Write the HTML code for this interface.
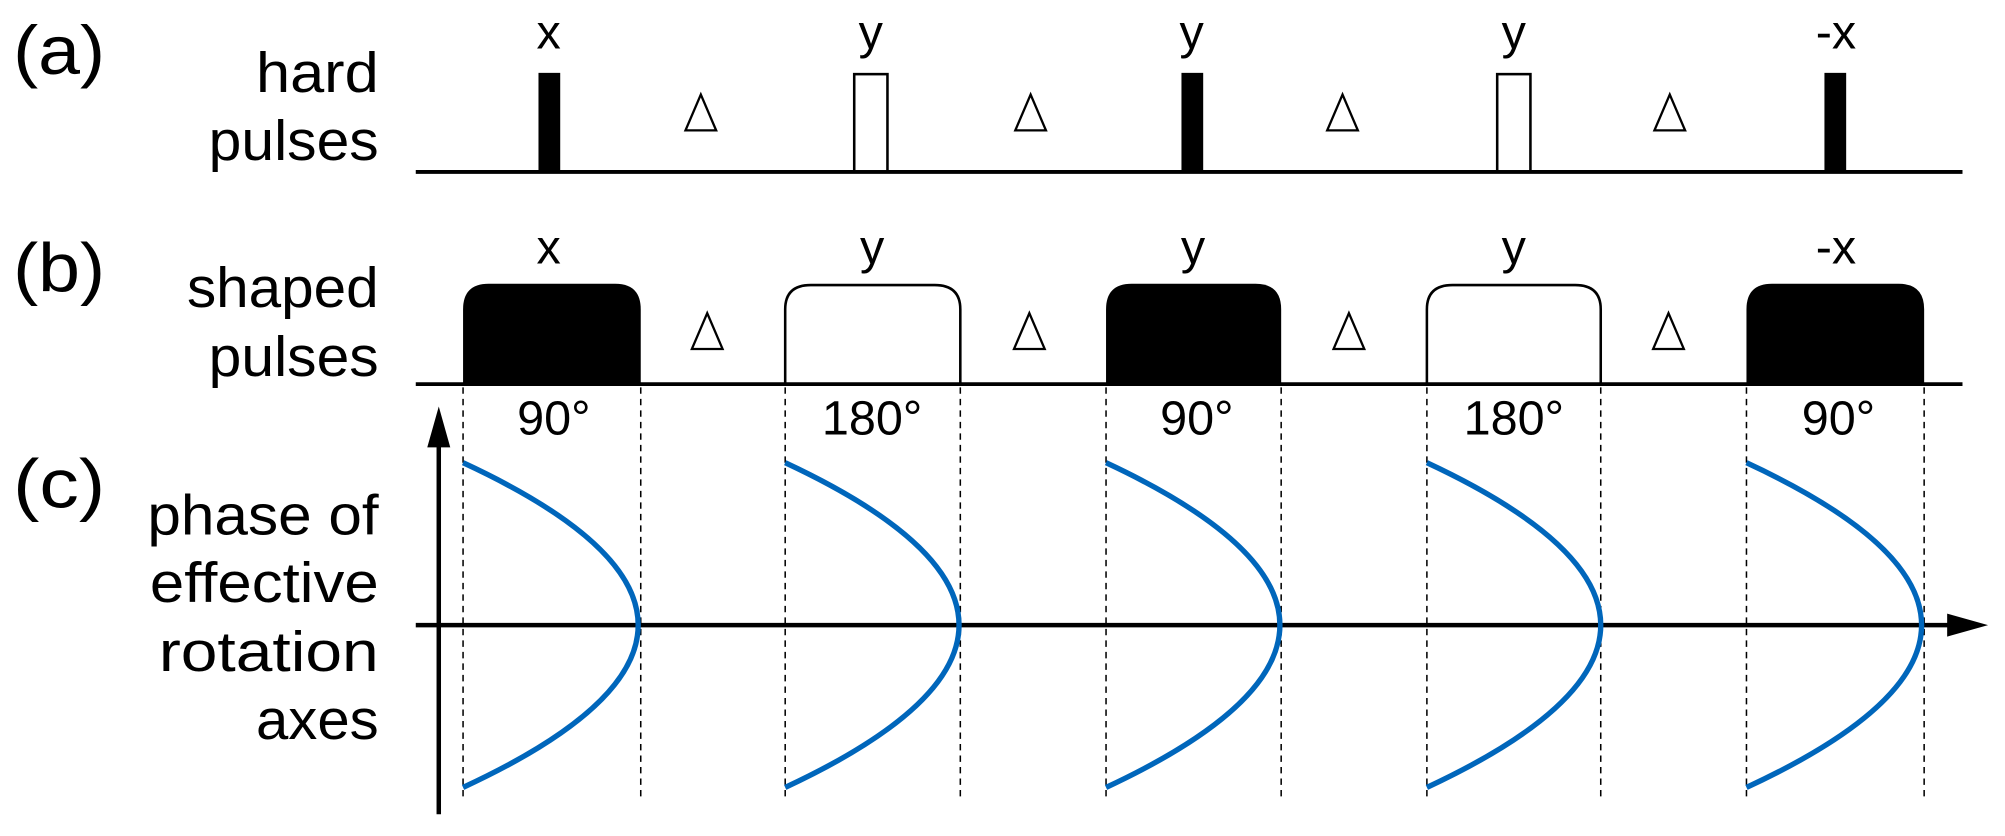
<!DOCTYPE html>
<html><head><meta charset="utf-8"><style>html,body{margin:0;padding:0;background:#fff}svg{display:block}</style></head>
<body>
<svg width="2005" height="836" viewBox="0 0 1568 654" xmlns="http://www.w3.org/2000/svg" font-family="'Liberation Sans',sans-serif">
<rect width="1568" height="654" fill="#fff"/>
<g font-size="54" fill="#000">
<text x="10" y="58" textLength="72" lengthAdjust="spacingAndGlyphs">(a)</text>
<text x="10" y="228" textLength="72" lengthAdjust="spacingAndGlyphs">(b)</text>
<text x="10" y="397" textLength="72" lengthAdjust="spacingAndGlyphs">(c)</text>
</g>
<g font-size="44" fill="#000" text-anchor="end">
<text x="296" y="72" textLength="96" lengthAdjust="spacingAndGlyphs">hard</text>
<text x="296" y="125" textLength="133" lengthAdjust="spacingAndGlyphs">pulses</text>
<text x="296" y="240" textLength="150" lengthAdjust="spacingAndGlyphs">shaped</text>
<text x="296" y="294" textLength="133" lengthAdjust="spacingAndGlyphs">pulses</text>
<text x="296" y="418" textLength="181" lengthAdjust="spacingAndGlyphs">phase of</text>
<text x="296" y="471" textLength="179" lengthAdjust="spacingAndGlyphs">effective</text>
<text x="296" y="525" textLength="172" lengthAdjust="spacingAndGlyphs">rotation</text>
<text x="296" y="578" textLength="96" lengthAdjust="spacingAndGlyphs">axes</text>
</g>
<!-- row a -->
<line x1="325" y1="134.5" x2="1535" y2="134.5" stroke="#000" stroke-width="3"/>
<rect x="421" y="57" width="17" height="77" fill="#000"/>
<rect x="668" y="58" width="26" height="76" fill="#fff" stroke="#000" stroke-width="2"/>
<rect x="924" y="57" width="17" height="77" fill="#000"/>
<rect x="1171" y="58" width="26" height="76" fill="#fff" stroke="#000" stroke-width="2"/>
<rect x="1427" y="57" width="17" height="77" fill="#000"/>
<g font-size="38" text-anchor="middle" fill="#000">
<text x="429" y="38">x</text><text x="681" y="38">y</text><text x="932" y="38">y</text><text x="1184" y="38">y</text><text x="1436" y="38">-x</text>
<text x="429" y="206">x</text><text x="682" y="206">y</text><text x="933" y="206">y</text><text x="1184" y="206">y</text><text x="1436" y="206">-x</text>
</g>
<g fill="none" stroke="#000" stroke-width="1.8">
<polygon points="548,74 536,102 560,102"/><polygon points="806,74 794,102 818,102"/><polygon points="1050,74 1038,102 1062,102"/><polygon points="1306,74 1294,102 1318,102"/>
<polygon points="553,245 541,273 565,273"/><polygon points="805,245 793,273 817,273"/><polygon points="1055,245 1043,273 1067,273"/><polygon points="1305,245 1293,273 1317,273"/>
</g>
<!-- row b -->
<path d="M362,300 V242 Q362,222 382,222 H481 Q501,222 501,242 V300 Z" fill="#000"/>
<path d="M614,300 V242 Q614,223 634,223 H731 Q751,223 751,242 V300" fill="#fff" stroke="#000" stroke-width="2"/>
<path d="M865,300 V242 Q865,222 885,222 H982 Q1002,222 1002,242 V300 Z" fill="#000"/>
<path d="M1116,300 V242 Q1116,223 1136,223 H1232 Q1252,223 1252,242 V300" fill="#fff" stroke="#000" stroke-width="2"/>
<path d="M1366,300 V242 Q1366,222 1386,222 H1485 Q1505,222 1505,242 V300 Z" fill="#000"/>
<line x1="325" y1="300.5" x2="1535" y2="300.5" stroke="#000" stroke-width="3"/>
<g stroke="#000" stroke-width="1.2" stroke-dasharray="5,4">
<line x1="362" y1="303" x2="362" y2="623"/><line x1="501" y1="303" x2="501" y2="623"/>
<line x1="614" y1="303" x2="614" y2="623"/><line x1="751" y1="303" x2="751" y2="623"/>
<line x1="865" y1="303" x2="865" y2="623"/><line x1="1002" y1="303" x2="1002" y2="623"/>
<line x1="1116" y1="303" x2="1116" y2="623"/><line x1="1252" y1="303" x2="1252" y2="623"/>
<line x1="1366" y1="303" x2="1366" y2="623"/><line x1="1505" y1="303" x2="1505" y2="623"/>
</g>
<g font-size="38" text-anchor="middle" fill="#000">
<text x="433" y="340">90°</text><text x="682" y="340">180°</text><text x="936" y="340">90°</text><text x="1184" y="340">180°</text><text x="1438" y="340">90°</text>
</g>
<!-- row c -->
<line x1="343" y1="637" x2="343" y2="340" stroke="#000" stroke-width="3.5"/>
<polygon points="343,318 334,350 352,350" fill="#000"/>
<line x1="325" y1="489" x2="1528" y2="489" stroke="#000" stroke-width="3.5"/>
<polygon points="1555,489 1523,480 1523,498" fill="#000"/>
<g fill="none" stroke="#0066bb" stroke-width="4.2">
<path d="M362,362 Q636,489 362,616"/>
<path d="M614,362 Q886,489 614,616"/>
<path d="M865,362 Q1137,489 865,616"/>
<path d="M1116,362 Q1388,489 1116,616"/>
<path d="M1366,362 Q1640,489 1366,616"/>
</g>
</svg>
</body></html>
